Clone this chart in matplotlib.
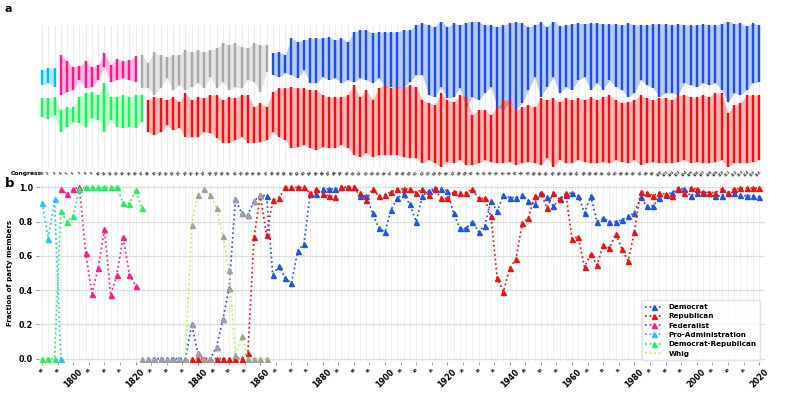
import numpy as np
import matplotlib.pyplot as plt

# one entry per Congress (1st .. 116th)
years = np.arange(1790, 2021, 2)
congress = np.arange(1, 117)

# ---- panel a: vertical extent of the two main parties in each Congress
# (arbitrary vertical position, larger = lower on the page)
up_top = [70, 68, 68, 55, 61, 67, 66, 61, 67, 65, 53, 65, 59, 61, 60, 56,
          55, 63, 52, 55, 57, 55, 55, 50, 52, 50, 52, 50, 48, 43, 45, 43, 47, 48, 43, 45, 45,
          53, 52, 55, 38, 42, 40, 38, 38, 38, 37, 40, 38, 42, 32, 30, 30, 33, 32, 32, 32,
          32, 30, 30, 25, 23, 25, 27, 20, 27, 23, 25, 23, 20, 22, 25, 25, 27, 25, 23, 22, 23,
          27, 25, 22, 27, 20, 26, 25, 24, 23, 24, 23, 23, 24, 24, 24, 25, 23, 25, 25, 25,
          24, 24, 24, 25, 24, 25, 25, 25, 24, 25, 25, 24, 20, 24, 23, 26, 23, 25]
up_bot = [85, 83, 87, 95, 92, 90, 80, 88, 87, 80, 67, 82, 80, 78, 80, 82,
          88, 88, 95, 88, 78, 90, 85, 90, 87, 83, 88, 77, 88, 82, 90, 87, 88, 80, 82, 92, 72,
          75, 77, 73, 75, 78, 70, 83, 83, 77, 80, 78, 83, 80, 82, 78, 80, 83, 78, 87, 87,
          88, 87, 82, 75, 75, 95, 97, 87, 98, 97, 88, 108, 97, 100, 93, 87, 107, 110, 102, 110, 103,
          90, 77, 97, 87, 77, 93, 87, 90, 80, 77, 90, 83, 90, 80, 87, 90, 97, 93, 80, 85,
          88, 97, 93, 93, 95, 83, 85, 87, 83, 85, 83, 90, 102, 93, 95, 90, 83, 82]
lo_top = [98, 98, 97, 110, 107, 107, 97, 93, 92, 95, 83, 97, 97, 95, 97, 95,
          95, 100, 97, 98, 100, 97, 102, 93, 100, 97, 98, 95, 95, 100, 97, 98, 95, 95, 107, 103, 107,
          92, 88, 88, 87, 88, 88, 90, 90, 95, 97, 97, 97, 95, 85, 97, 90, 100, 88, 85, 88,
          87, 87, 85, 87, 100, 103, 105, 93, 100, 102, 95, 97, 115, 110, 110, 115, 107, 100, 100, 110, 107,
          105, 107, 98, 100, 98, 102, 98, 100, 98, 100, 97, 100, 97, 95, 100, 103, 102, 100, 95, 98,
          100, 98, 98, 100, 95, 95, 97, 97, 95, 97, 93, 93, 113, 105, 103, 95, 95, 95]
lo_bot = [117, 119, 115, 132, 127, 122, 123, 127, 118, 120, 132, 120, 127, 128, 127, 128,
          122, 132, 135, 132, 125, 130, 128, 137, 137, 137, 132, 133, 138, 143, 143, 140, 137, 143, 143, 142, 140,
          132, 137, 140, 148, 147, 145, 148, 150, 147, 148, 148, 145, 148, 155, 157, 153, 157, 155, 155, 155,
          155, 157, 158, 158, 163, 160, 163, 167, 162, 163, 160, 165, 165, 163, 160, 162, 163, 163, 162, 165, 163,
          162, 163, 165, 158, 167, 160, 163, 163, 160, 162, 163, 163, 162, 163, 160, 162, 163, 160, 165, 163,
          162, 163, 163, 163, 162, 160, 163, 162, 163, 163, 162, 160, 167, 163, 163, 163, 162, 160]

# party runs: (colour, first index, last index + 1)
upper_runs = [('#00bfff', 0, 3), ('#ff1493', 3, 16), ('#a8a8a8', 16, 37), ('#1a4fe0', 37, 116)]
lower_runs = [('#1ef05a', 0, 17), ('#ee1111', 17, 116)]

# ---- panel b: fraction of party members
pro_admin = [0.91, 0.70, 0.93, 0.0]                       # Congress 1-4
dem_rep = [0, 0, 0, 0.86, 0.80, 0.835, 0.99, 1.0, 1.0, 1.0, 1.0, 1.0, 1.0,
           0.91, 0.905, 0.985, 0.88]                       # Congress 1-17
federalist = [0.99, 0.96, 0.99, 1.0, 0.615, 0.38, 0.53, 0.755, 0.37, 0.49,
              0.71, 0.49, 0.425]                           # Congress 4-16
whig = [0, 0.78, 0.955, 0.99, 0.955, 0.88, 0.715, 0.52, 0.02, 0.13, 0, 0, 0, 0]  # 24-37
other = [0, 0, 0, 0, 0, 0, 0]                              # Congress 17-23
democrat = [0, 0, 0, 0, 0, 0, 0,
            0.20, 0.03, 0.0, 0.0, 0.07, 0.23, 0.41, 0.93, 0.85, 0.84, 0.92, 0.955, 0.95,
            0.49, 0.54, 0.47, 0.44, 0.63, 0.67, 0.96, 0.96, 0.99, 0.99, 0.99, 1.0, 1.0, 1.0,
            0.95, 0.95, 0.85, 0.76, 0.74, 0.87, 0.94, 0.96, 0.90, 0.80, 0.95, 0.98, 0.995, 0.99, 0.98,
            0.85, 0.76, 0.76, 0.80, 0.74, 0.775, 0.92, 0.86, 0.955, 0.94, 0.94, 0.955, 0.92, 0.905, 0.97,
            0.945, 0.89, 0.93, 0.955, 0.97, 0.95, 0.85, 0.95, 0.80, 0.82, 0.80, 0.80, 0.81, 0.83, 0.85,
            0.945, 0.89, 0.89, 0.94, 0.955, 0.97, 0.995, 0.99, 0.95, 0.97, 0.97, 0.97, 0.95, 0.95,
            0.97, 0.97, 0.955, 0.95, 0.95, 0.945]             # Congress 18-116
republican = [0, 0, 0, 0, 0, 0, 0, 0, 0,
              0.03, 0.71, 0.955, 0.72, 0.925, 0.94, 1.0, 1.0, 1.0, 1.0, 0.965, 0.99, 0.96, 0.95, 0.945,
              1.0, 1.0, 1.0, 0.97, 0.925, 0.99, 0.95, 0.955, 0.975, 0.99, 0.99, 0.99, 0.97, 0.99, 0.955,
              0.99, 0.935, 0.935, 0.975, 0.97, 0.97, 0.99, 0.935, 0.935, 0.83, 0.47, 0.39, 0.53, 0.58, 0.79,
              0.82, 0.95, 0.965, 0.88, 0.97, 0.93, 0.965, 0.70, 0.71, 0.535, 0.61, 0.545, 0.665, 0.645,
              0.73, 0.64, 0.57, 0.74,
              0.975, 0.97, 0.95, 0.97, 0.96, 0.95, 0.99, 0.97, 0.995, 0.99, 0.975, 0.97, 0.97, 0.99,
              0.97, 0.99, 0.995, 0.995, 0.995, 0.995]      # Congress 25-116

fig = plt.figure(figsize=(7.89, 3.95), dpi=100)
ax1 = fig.add_axes([0.049, 1 - 168 / 395, 0.921, 146 / 395])
ax2 = fig.add_axes([0.049, 0.0835, 0.921, 0.453])
xlim = (1788.9, 2022)

# ---------------- panel a
ax1.vlines(years, 25, 167, color='#ececec', lw=0.8, zorder=0)
up_top, up_bot, lo_top, lo_bot = map(np.array, (up_top, up_bot, lo_top, lo_bot))
for runs, top, bot in ((upper_runs, up_top, up_bot), (lower_runs, lo_top, lo_bot)):
    for c, s, e in runs:
        ax1.fill_between(years[s:e], top[s:e], bot[s:e], color=c, alpha=0.3, lw=0)
        ax1.vlines(years[s:e], top[s:e], bot[s:e], color=c, lw=1.7)
ax1.set_xlim(xlim)
ax1.set_ylim(168, 22)
ax1.axis('off')
for x, n in zip(years, congress):
    ax1.text(x, 173.5, str(n), fontsize=2.6, fontweight='bold', rotation=45,
             ha='center', va='center', color='#333333', clip_on=False)
fig.text(0.013, 1 - 173.5 / 395, 'Congress:', fontsize=4.3, fontweight='bold', va='center')
fig.text(0.006, 0.99, 'a', fontsize=8, fontweight='bold', va='top')
fig.text(0.006, 1 - 177.5 / 395, 'b', fontsize=9.5, fontweight='bold', va='top')

# ---------------- panel b
ms = 3.6
ax2.plot(years[17:], democrat, ':', color='#1f55e6', lw=1.25, marker='^', ms=ms, label='Democrat')
ax2.plot(years[24:], republican, ':', color='#ee1111', lw=1.25, marker='^', ms=ms, label='Republican')
ax2.plot(years[3:16], federalist, ':', color='#ff1a8c', lw=1.25, marker='^', ms=ms, label='Federalist')
ax2.plot(years[:4], pro_admin, ':', color='#22c4ff', lw=1.25, marker='^', ms=ms, label='Pro-Administration')
ax2.plot(years[:17], dem_rep, ':', color='#22f060', lw=1.25, marker='^', ms=ms, label='Democrat-Republican')
ax2.plot(years[23:37], whig, ':', color='#a6ff3a', lw=1.25, label='Whig')
# members of other parties are marked in grey
ax2.plot(years[23:37], whig, ls='none', marker='^', ms=ms, color='#a0a0a0')
ax2.plot(years[16:23], other, ls='none', marker='^', ms=ms, color='#a0a0a0')
ax2.plot(years[24:36], democrat[7:19], ls='none', marker='^', ms=ms, color='#a0a0a0')

ax2.set_xlim(xlim)
ax2.set_ylim(-0.02, 1.025)
ax2.set_yticks(np.arange(0, 1.01, 0.2))
ax2.set_yticklabels([f'{v:.1f}' for v in np.arange(0, 1.01, 0.2)], fontweight='bold', fontsize=5.8)
ax2.set_xticks(np.arange(1800, 2021, 20))
ax2.set_xticklabels([str(y) for y in range(1800, 2021, 20)], rotation=45,
                    fontweight='bold', fontsize=5.8, ha='center')
minor = [y for y in range(1790, 2021, 5) if y % 20 != 0]
ax2.set_xticks(minor, minor=True)
ax2.set_xticklabels([f'{y % 100:02d}' for y in minor], minor=True, rotation=45,
                    fontsize=2.6, fontweight='bold', ha='center')
ax2.tick_params(axis='both', which='both', length=2.5, color='#999999', pad=1.5)
ax2.set_ylabel('Fraction of party members', fontweight='bold', fontsize=5, labelpad=4)
for y in years:
    ax2.axvline(y, color='#efefef', lw=0.7, zorder=0)
ax2.grid(axis='y', color='#dddddd', lw=0.9)
ax2.set_axisbelow(True)
for sp in ax2.spines.values():
    sp.set_visible(False)
leg = ax2.legend(loc='lower right', prop={'weight': 'bold', 'size': 5.2},
                 frameon=True, handlelength=2.4, borderpad=0.5, labelspacing=0.45,
                 bbox_to_anchor=(0.998, -0.01))
leg.get_frame().set_edgecolor('#dddddd')

fig.savefig('out.png', dpi=100)
